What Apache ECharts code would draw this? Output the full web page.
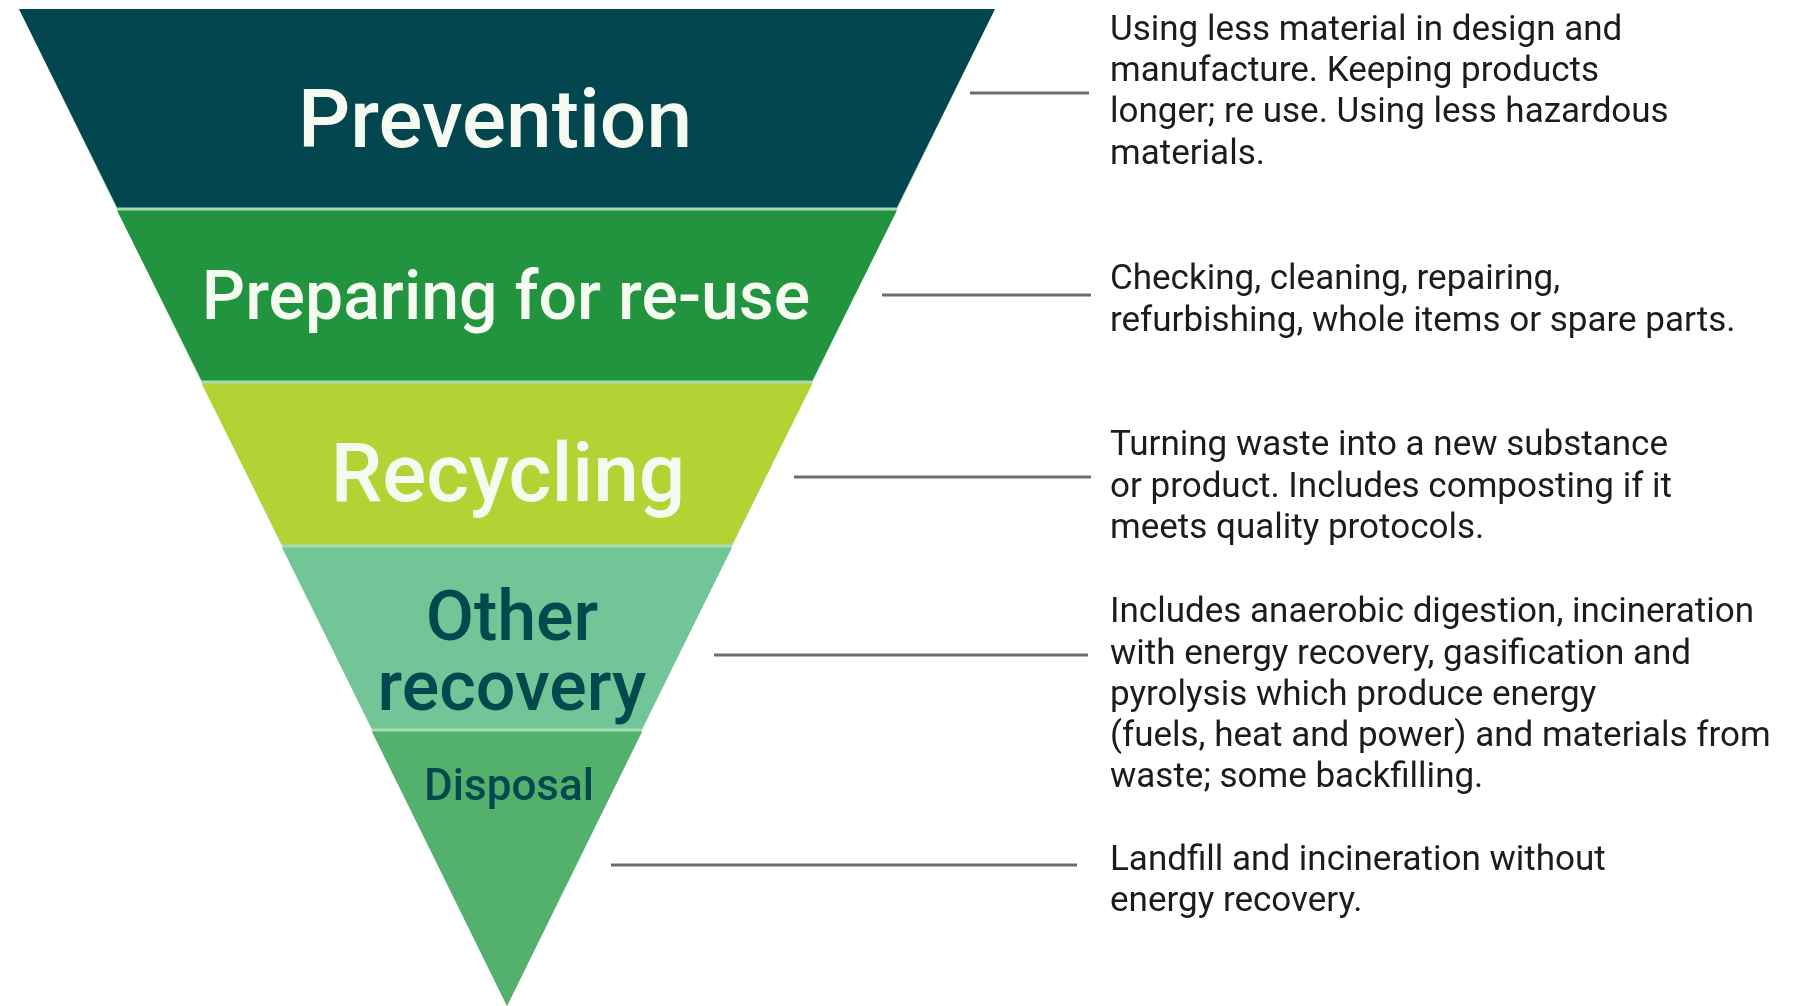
<!DOCTYPE html>
<html><head><meta charset="utf-8">
<script src="https://cdn.jsdelivr.net/npm/echarts@6/dist/echarts.min.js"></script>
<style>html,body{margin:0;padding:0;background:#fff}#c{width:1800px;height:1006px}</style>
</head><body><div id="c"></div>
<script>
// ---- data ----
const tiers = ['Prevention', 'Preparing for re-use', 'Recycling', 'Other\nrecovery', 'Disposal'];
const tierWidths = [100, 79.9, 62.6, 46.1, 27.7]; // relative width at the top of each tier
const descriptions = [
  ['Using less material in design and', 'manufacture. Keeping products', 'longer; re use. Using less hazardous', 'materials.'],
  ['Checking, cleaning, repairing,', 'refurbishing, whole items or spare parts.'],
  ['Turning waste into a new substance', 'or product. Includes composting if it', 'meets quality protocols.'],
  ['Includes anaerobic digestion, incineration', 'with energy recovery, gasification and', 'pyrolysis which produce energy', '(fuels, heat and power) and materials from', 'waste; some backfilling.'],
  ['Landfill and incineration without', 'energy recovery.']
];

// ---- layout & style ----
const FUNNEL = { left: 19, top: 9, width: 976, height: 997 };
const tierHeights = [200, 173, 164, 184, 276];
const GAP = 3;
const tierColors = ['#03464f', '#22943f', '#b3d335', '#72c596', '#53b06d'];
const labelColors = ['#f6fbf2', '#f6fbf2', '#f6fbf2', '#03484f', '#03484f'];
const labelSizes = [82, 68, 82, 70, 44];
const labelOffsets = [[-12, 18], [-1, 6], [1, 16], [5, 19], [2, -80]];
const descFirstLineY = [31, 280.5, 446.5, 613.5, 861];
const descX = 1110;
const descLineH = 41.3;
const descSize = 35;
const connectors = [[970, 1089, 93], [882, 1091, 295], [794, 1091, 477], [714, 1088, 655], [611, 1077, 865]];
const FONT = 'Roboto, "Noto Sans", sans-serif';

const n = tiers.length;
const frontData = tiers.map((name, i) => ({
  name,
  value: tierWidths[i],
  itemStyle: {
    color: tierColors[i],
    height: tierHeights[i] - (i === 0 || i === n - 1 ? GAP / 2 : GAP)
  },
  label: {
    color: labelColors[i],
    fontSize: labelSizes[i],
    lineHeight: labelSizes[i]
  }
}));

const graphics = [];
descriptions.forEach((lines, i) => {
  graphics.push({
    type: 'text',
    left: descX,
    top: descFirstLineY[i] - descLineH / 2,
    style: {
      text: lines.join('\n'),
      font: descSize + 'px ' + FONT,
      fill: '#1c1c1c',
      lineHeight: descLineH
    }
  });
  const c = connectors[i];
  graphics.push({
    type: 'line',
    shape: { x1: c[0], y1: c[2], x2: c[1], y2: c[2] },
    style: { stroke: '#6e6e6e', lineWidth: 3 }
  });
});

const chart = echarts.init(document.getElementById('c'), null, { renderer: 'canvas' });
chart.setOption({
  backgroundColor: '#ffffff',
  animation: false,
  series: [
    {
      type: 'funnel',
      z: 1,
      left: FUNNEL.left, top: FUNNEL.top, width: FUNNEL.width, height: FUNNEL.height,
      min: 0, max: 100, minSize: '0%', maxSize: '100%',
      sort: 'none', gap: 0, silent: true,
      label: { show: false }, labelLine: { show: false },
      itemStyle: { color: '#a6dcb0', borderWidth: 0 },
      data: [{ name: 'separator', value: 100 }]
    },
    {
      type: 'funnel',
      z: 2,
      left: FUNNEL.left, top: FUNNEL.top, width: FUNNEL.width, height: FUNNEL.height,
      min: 0, max: 100, minSize: '0%', maxSize: '100%',
      sort: 'none', gap: GAP, funnelAlign: 'center', silent: true,
      label: {
        show: true, position: 'inside',
        fontFamily: FONT, fontWeight: 500,
        align: 'center', verticalAlign: 'middle'
      },
      labelLine: { show: false },
      labelLayout: function (p) {
        const o = labelOffsets[p.dataIndex];
        return { dx: o[0], dy: o[1] };
      },
      itemStyle: { borderWidth: 0 },
      data: frontData
    }
  ],
  graphic: graphics
});
</script>
</body></html>
